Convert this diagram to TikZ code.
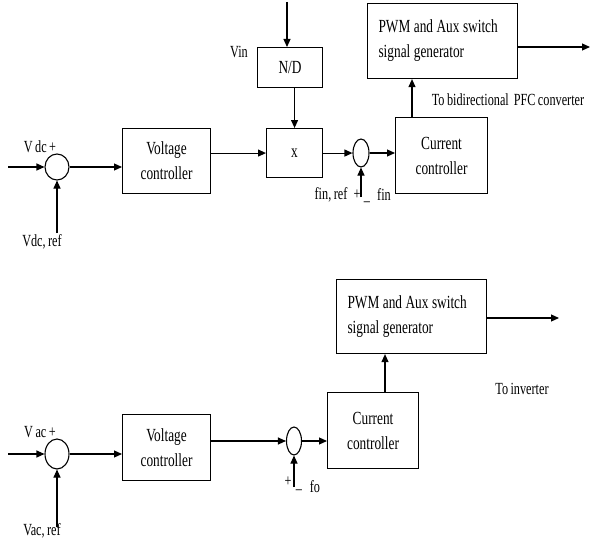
\documentclass[tikz,border=0pt]{standalone}
\usepackage{fontspec}
\setmainfont{Liberation Serif}[FakeStretch=0.72,WordSpace=0.8]
\usetikzlibrary{shapes.geometric,arrows.meta}
\newcommand{\tightsp}{\spaceskip=3.5pt plus 1pt\relax}
\begin{document}
\begin{tikzpicture}[x=1pt,y=-1pt,
 blk/.style={draw,line width=1.1pt,inner sep=0pt,align=center,font=\fontsize{18.5}{25}\selectfont,anchor=north west},
 sumj/.style={draw,ellipse,line width=1.1pt,inner sep=0pt},
 arr/.style={line width=1.1pt,-{Triangle[length=8pt,width=7pt]}},
 lbl/.style={font=\fontsize{17}{20}\selectfont,inner sep=0pt}]
\useasboundingbox (0,0) rectangle (592,543);
% top section
\node[blk,minimum width=88pt,minimum height=65pt] (vc1) at (122,128) {Voltage\\controller};
\node[blk,minimum width=56pt,minimum height=49pt] (mul) at (266,128) {x};
\node[blk,minimum width=65pt,minimum height=40pt] (nd) at (257,47) {N/D};
\node[blk,minimum width=92pt,minimum height=76pt] (cc1) at (395,117) {Current\\controller};
\node[blk,minimum width=150pt,minimum height=75pt,align=left,text width=128pt] (pwm1) at (367,3) {\tightsp PWM and Aux switch\\signal generator};
\node[sumj,minimum width=24pt,minimum height=26pt] (s1) at (57,167) {};
\node[sumj,minimum width=16pt,minimum height=28pt] (s2) at (361,153) {};
\coordinate (in1) at (8,167);
\coordinate (ref1) at (57,233);
\coordinate (top) at (287,2);
\coordinate (out1) at (590,47);
\coordinate (fref) at (361,197);
\draw[arr] (in1) -- (s1.west);
\draw[arr] (ref1) -- (s1.south);
\draw[arr] (s1.east) -- (s1.east -| vc1.west);
\draw[arr] (vc1.east |- mul.west) -- (mul.west);
\draw[arr] (top) -- (top |- nd.north);
\draw[arr] (mul.north |- nd.south) -- (mul.north);
\draw[arr] (mul.east) -- (mul.east -| s2.west);
\draw[arr] (fref) -- (s2.south);
\draw[arr] (s2.east) -- (s2.east -| cc1.west);
\draw[arr] ([xshift=17pt]cc1.north west) -- ([xshift=17pt]cc1.north west |- pwm1.south);
\draw[arr] (pwm1.east |- out1) -- (out1);
\node[lbl] (lvdc) at (40,147) {V dc +};
\node[lbl] (lvdcref) at (42,242) {Vdc, ref};
\node[lbl] (lvin) at (239,52) {Vin};
\node[lbl] (lfinref) at (331,195) {fin, ref};
\node[lbl] (lplus1) at (357,195) {+};
\node[lbl] (lminus1) at (367,202) {\_};
\node[lbl] (lfin) at (384,195) {fin};
\node[lbl] (lto1) at (508,100) {To bidirectional\ \ PFC converter};
% bottom section
\node[blk,minimum width=88pt,minimum height=66pt] (vc2) at (122,414) {Voltage\\controller};
\node[blk,minimum width=91pt,minimum height=76pt] (cc2) at (327,392) {Current\\controller};
\node[blk,minimum width=150pt,minimum height=74pt,align=left,text width=128pt] (pwm2) at (336,279) {\tightsp PWM and Aux switch\\signal generator};
\node[sumj,minimum width=24pt,minimum height=30pt] (s3) at (57,454) {};
\node[sumj,minimum width=15pt,minimum height=28pt] (s4) at (294,441) {};
\coordinate (in2) at (8,454);
\coordinate (ref2) at (57,527);
\coordinate (fo) at (294,487);
\coordinate (out2) at (559,318);
\draw[arr] (in2) -- (s3.west);
\draw[arr] (ref2) -- (s3.south);
\draw[arr] (s3.east) -- (s3.east -| vc2.west);
\draw[arr] (vc2.east |- s4.west) -- (s4.west);
\draw[arr] (fo) -- (s4.south);
\draw[arr] (s4.east) -- (s4.east -| cc2.west);
\draw[arr] ([xshift=58pt]cc2.north west) -- ([xshift=58pt]cc2.north west |- pwm2.south);
\draw[arr] (pwm2.east |- out2) -- (out2);
\node[lbl] (lvac) at (40,432) {V ac +};
\node[lbl] (lvacref) at (42,531) {Vac, ref};
\node[lbl] (lplus2) at (288,482) {+};
\node[lbl] (lminus2) at (299,490) {\_};
\node[lbl] (lfo) at (315,487) {fo};
\node[lbl] (lto2) at (522,389) {To inverter};
\end{tikzpicture}
\end{document}
